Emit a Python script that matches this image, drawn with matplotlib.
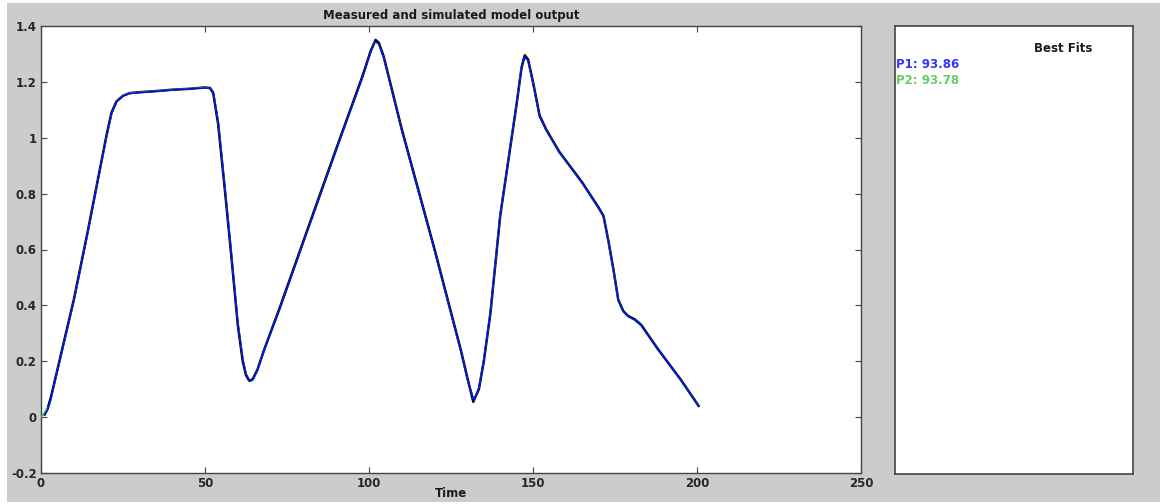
import matplotlib
matplotlib.use("Agg")
import matplotlib.pyplot as plt
from matplotlib.patches import Rectangle
from matplotlib.transforms import Bbox

# ---- data ----
t_meas = [1, 2, 3, 4, 5, 7, 10, 14, 18, 20, 21.5, 23, 25, 27, 30, 35, 40, 45, 48,
          50, 51.5, 52.5, 54, 56, 58, 60, 61.5, 62.5, 63.5, 64.5, 66, 68, 72.9, 80,
          90, 98, 100.5, 102, 103, 104.5, 110, 120, 128, 130, 131.8, 133.5, 135,
          137, 140, 142, 145, 146.5, 147.5, 148.5, 150, 152, 154, 158, 165, 170,
          171.5, 173, 174.5, 176, 177.5, 179, 181, 183, 188, 195, 200.5]
y_meas = [0.01, 0.03, 0.07, 0.12, 0.17, 0.27, 0.42, 0.65, 0.89, 1.01, 1.09, 1.13,
          1.15, 1.16, 1.163, 1.167, 1.172, 1.175, 1.178, 1.18, 1.178, 1.16, 1.05,
          0.82, 0.58, 0.33, 0.20, 0.15, 0.13, 0.135, 0.17, 0.24, 0.395, 0.63, 0.96,
          1.22, 1.31, 1.35, 1.34, 1.29, 1.03, 0.60, 0.24, 0.14, 0.055, 0.10, 0.20,
          0.37, 0.72, 0.88, 1.12, 1.25, 1.295, 1.28, 1.20, 1.08, 1.03, 0.95, 0.84,
          0.75, 0.72, 0.63, 0.53, 0.42, 0.38, 0.362, 0.35, 0.33, 0.245, 0.135, 0.04]

t_p1 = [1.2, 2, 3, 4, 5, 7, 10, 14, 18, 20, 21.5, 23, 25, 27, 30, 35, 40, 45, 48,
        50, 51.5, 52.5, 54, 56, 58, 60, 61.5, 62.5, 63.7, 64.7, 66, 68, 72.9, 80,
        90, 98, 100.5, 101.8, 103, 104.5, 110, 120, 128, 130, 132, 133.5, 135,
        137, 140, 142, 145, 146.5, 147.3, 148.5, 150, 152, 154, 158, 165, 170,
        171.5, 173, 174.5, 176, 177.5, 179, 181, 183, 188, 195, 200.5]
y_p1 = [0.008, 0.025, 0.065, 0.115, 0.165, 0.265, 0.415, 0.645, 0.885, 1.005, 1.085,
        1.128, 1.15, 1.158, 1.162, 1.166, 1.171, 1.175, 1.177, 1.178, 1.177, 1.165,
        1.06, 0.83, 0.59, 0.34, 0.21, 0.155, 0.128, 0.135, 0.168, 0.238, 0.39,
        0.625, 0.955, 1.215, 1.305, 1.345, 1.335, 1.285, 1.025, 0.595, 0.235,
        0.135, 0.06, 0.105, 0.205, 0.375, 0.725, 0.885, 1.125, 1.255, 1.292, 1.275,
        1.195, 1.075, 1.028, 0.948, 0.838, 0.748, 0.718, 0.628, 0.528, 0.418,
        0.378, 0.36, 0.348, 0.328, 0.243, 0.133, 0.04]

t_p2 = [0, 1, 2.7, 4, 5, 7, 10, 14, 18, 20, 21.5, 23, 25, 27, 30, 35, 40, 45, 48,
        50, 51.5, 52.5, 54, 56, 58, 60, 61.5, 62.5, 63.7, 64.7, 66, 68, 72.9, 80,
        90, 98, 100.5, 101.8, 103, 104.5, 110, 120, 128, 130, 132, 133.5, 135,
        137, 140, 142, 145, 146.5, 147.3, 148.5, 150, 152, 154, 158, 165, 170,
        171.5, 173, 174.5, 176, 177.5, 179, 181, 183, 188, 195, 200.5]
y_p2 = [0.0, 0.015, 0.045, 0.115, 0.165, 0.265, 0.415, 0.645, 0.885, 1.005, 1.085,
        1.128, 1.15, 1.16, 1.163, 1.167, 1.172, 1.176, 1.178, 1.179, 1.177, 1.165,
        1.06, 0.83, 0.59, 0.34, 0.21, 0.155, 0.128, 0.135, 0.168, 0.238, 0.39,
        0.625, 0.955, 1.215, 1.305, 1.345, 1.335, 1.285, 1.025, 0.595, 0.235,
        0.135, 0.06, 0.105, 0.205, 0.375, 0.725, 0.885, 1.125, 1.255, 1.292, 1.275,
        1.195, 1.075, 1.028, 0.948, 0.838, 0.748, 0.718, 0.628, 0.528, 0.418,
        0.378, 0.36, 0.348, 0.328, 0.243, 0.133, 0.04]

x_ticks = [0, 50, 100, 150, 200, 250]
y_ticks = [-0.2, 0, 0.2, 0.4, 0.6, 0.8, 1, 1.2, 1.4]
y_ticklabels = ["-0.2", "0", "0.2", "0.4", "0.6", "0.8", "1", "1.2", "1.4"]
fit_labels = ["P1: 93.86", "P2: 93.78"]

# ---- figure ----
W, H = 1160, 504
FS = 8.5
plt.rcParams['font.family'] = ['DejaVu Sans']
plt.rcParams['font.weight'] = 'bold'
fig = plt.figure(figsize=(W / 100, H / 100), dpi=100)
fig.patch.set_facecolor('white')
fig.patches.append(Rectangle((7 / W, 2 / H), (W - 7) / W, (H - 5) / H,
                             transform=fig.transFigure, facecolor='#cccccc',
                             edgecolor='none', zorder=-10))

def fbox(l, t, r, b):
    return [l / W, (H - b) / H, (r - l) / W, (b - t) / H]

ax = fig.add_axes(fbox(41, 26, 861, 473))
ax.set_facecolor('white')
ax.plot(t_meas, y_meas, color='black', lw=1.8, zorder=2)
ax.plot(t_p2, y_p2, color='#33cc33', lw=1.0, zorder=3)
ax.plot(t_p1, y_p1, color='#0000ff', lw=1.0, zorder=4)
ax.set_xlim(0, 250)
ax.set_ylim(-0.2, 1.4)
ax.set_xticks(x_ticks)
ax.set_yticks(y_ticks)
ax.set_yticklabels(y_ticklabels)
ax.tick_params(direction='in', length=4, width=0.8, colors='#444444',
               labelcolor='#262626', labelsize=FS, top=True, right=True, pad=3)
for s in ax.spines.values():
    s.set_color('#444444')
    s.set_linewidth(1.0)
ax.set_title("Measured and simulated model output", fontsize=FS, color='#1a1a1a',
             pad=5, fontweight='bold')
ax.set_xlabel("Time", fontsize=FS, color='#1a1a1a', labelpad=-2, fontweight='bold')

ax2 = fig.add_axes(fbox(895, 26, 1133, 474))
ax2.set_facecolor('white')
ax2.set_xticks([])
ax2.set_yticks([])
for s in ax2.spines.values():
    s.set_color('#444444')
    s.set_linewidth(1.2)
ax2.set_xlim(0, 1)
ax2.set_ylim(0, 1)
txt = ax2.text((1034 - 895) / 238, 1 - (49 - 26) / 448, "Best Fits", fontsize=FS,
               color='#1a1a1a', ha='left', va='center')
clip = Bbox.from_extents(895, H - 474, 1092, H - 26)
txt.set_clip_box(clip)
txt.set_clip_on(True)
ax2.text(0.003, 1 - (65 - 26) / 448, fit_labels[0], fontsize=FS, color='#3333ff',
         ha='left', va='center')
ax2.text(0.003, 1 - (81 - 26) / 448, fit_labels[1], fontsize=FS, color='#66cc66',
         ha='left', va='center')

fig.savefig("out.png", dpi=100, facecolor=fig.get_facecolor())
